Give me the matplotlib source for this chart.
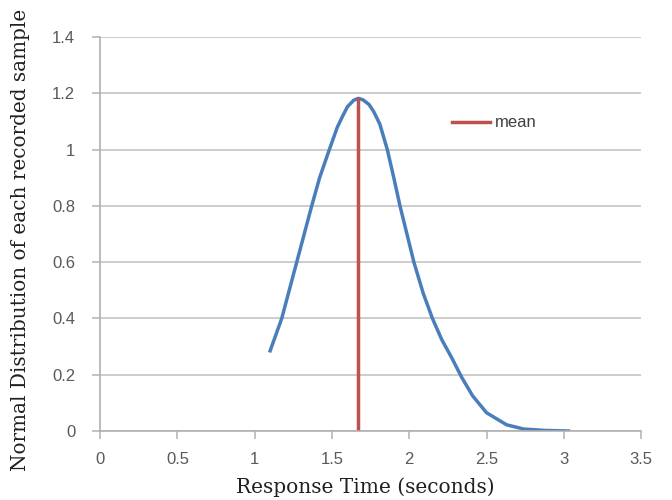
import numpy as np
import matplotlib.pyplot as plt

# response time (seconds) vs normal distribution
resp_time = [1.10, 1.175, 1.272, 1.369, 1.42, 1.483, 1.535, 1.57, 1.60, 1.64,
             1.671, 1.70, 1.74, 1.77, 1.81, 1.858, 1.90, 1.94, 2.03, 2.09,
             2.15, 2.21, 2.275, 2.34, 2.41, 2.50, 2.63, 2.74, 2.88, 3.03]
norm_dist = [0.285, 0.40, 0.60, 0.80, 0.90, 1.00, 1.08, 1.12, 1.152, 1.175,
             1.182, 1.177, 1.16, 1.135, 1.09, 1.00, 0.90, 0.80, 0.60, 0.49,
             0.40, 0.325, 0.26, 0.19, 0.125, 0.065, 0.022, 0.007, 0.002, 0.0]
mean_x = [1.67, 1.67]
mean_y = [0.0, 1.18]
xticks = [0, 0.5, 1, 1.5, 2, 2.5, 3, 3.5]
xtick_labels = ['0', '0.5', '1', '1.5', '2', '2.5', '3', '3.5']
yticks = [0, 0.2, 0.4, 0.6, 0.8, 1.0, 1.2, 1.4]
ytick_labels = ['0', '0.2', '0.4', '0.6', '0.8', '1', '1.2', '1.4']

fig = plt.figure(figsize=(6.72, 5), dpi=100)
ax = fig.add_axes([0.149, 0.138, 0.805, 0.788])

ax.plot(resp_time, norm_dist, color='#4a7ebb', lw=2.5, solid_joinstyle='round')
ax.plot(mean_x, mean_y, color='#c0504d', lw=2.5, label='mean')

ax.set_xlim(0, 3.5)
ax.set_ylim(0, 1.4)
ax.set_xticks(xticks)
ax.set_xticklabels(xtick_labels)
ax.set_yticks(yticks)
ax.set_yticklabels(ytick_labels)
ax.yaxis.grid(True, color='#c8c8c8', lw=1.3)
ax.set_axisbelow(True)
for s in ['top', 'right']:
    ax.spines[s].set_visible(False)
for s in ['left', 'bottom']:
    ax.spines[s].set_color('#b0b0b0')
    ax.spines[s].set_linewidth(1.2)
ax.tick_params(axis='both', colors='#b8b8b8', labelcolor='#595959',
               labelsize=12, length=6, width=1.2)
ax.tick_params(axis='x', pad=9)
ax.tick_params(axis='y', pad=12)
for t in ax.get_xticklabels() + ax.get_yticklabels():
    t.set_family('Liberation Sans')

ax.set_xlabel('Response Time (seconds)', family='DejaVu Serif',
              fontsize=14.5, color='#202020', va='center')
ax.xaxis.set_label_coords(0.49, -0.142)
ax.set_ylabel('Normal Distribution of each recorded sample',
              family='DejaVu Serif', fontsize=14.4, color='#202020', va='center')
ax.yaxis.set_label_coords(-0.148, 0.485)

ax.legend(loc='center left', bbox_to_anchor=(0.622, 0.782), frameon=False,
          handlelength=2.3, handletextpad=0.3,
          prop={'family': 'Liberation Sans', 'size': 12}, labelcolor='#404040')

fig.savefig('out.png', dpi=100)
